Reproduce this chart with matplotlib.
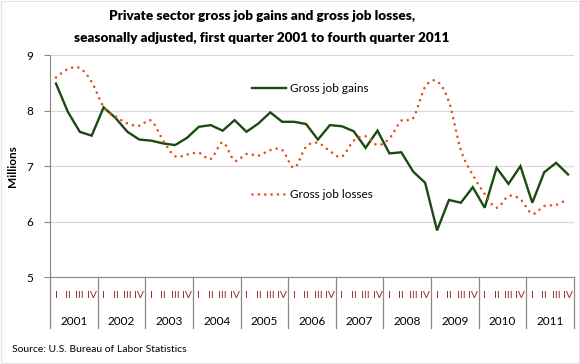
import matplotlib
matplotlib.use("Agg")
import matplotlib.pyplot as plt
import numpy as np
from matplotlib.transforms import blended_transform_factory

plt.rcParams['font.family'] = ['Lato', 'DejaVu Sans']

years = ['2001', '2002', '2003', '2004', '2005', '2006',
         '2007', '2008', '2009', '2010', '2011']
quarters = ['I', 'II', 'III', 'IV']

# millions, 2001 Q1 .. 2011 Q4
gains = [8.49, 7.98, 7.62, 7.55, 8.06, 7.87, 7.62, 7.48, 7.46, 7.41, 7.38, 7.51,
         7.71, 7.74, 7.64, 7.83, 7.62, 7.77, 7.97, 7.80, 7.80, 7.76, 7.48, 7.74,
         7.72, 7.63, 7.33, 7.64, 7.23, 7.25, 6.90, 6.70, 5.84, 6.39, 6.34, 6.62,
         6.25, 6.97, 6.68, 7.00, 6.34, 6.89, 7.06, 6.85]
losses = [8.60, 8.75, 8.77, 8.52, 8.07, 7.90, 7.77, 7.73, 7.82, 7.46, 7.18, 7.21,
          7.24, 7.13, 7.43, 7.10, 7.22, 7.19, 7.29, 7.29, 6.97, 7.35, 7.42, 7.27,
          7.17, 7.46, 7.54, 7.38, 7.50, 7.82, 7.87, 8.43, 8.53, 8.16, 7.29, 6.84,
          6.50, 6.25, 6.46, 6.40, 6.14, 6.28, 6.30, 6.41]


def smooth(x, y, n=20):
    # bezier smoothing like the spreadsheet "smoothed line" option
    x = np.asarray(x, float)
    y = np.asarray(y, float)
    px = np.concatenate([[x[0]], x, [x[-1]]])
    py = np.concatenate([[y[0]], y, [y[-1]]])
    t = np.linspace(0, 1, n)[:, None]
    xs, ys = [], []
    for i in range(1, len(px) - 2):
        c1x = px[i] + (px[i + 1] - px[i - 1]) / 6
        c1y = py[i] + (py[i + 1] - py[i - 1]) / 6
        c2x = px[i + 1] - (px[i + 2] - px[i]) / 6
        c2y = py[i + 1] - (py[i + 2] - py[i]) / 6
        b = [(1 - t) ** 3, 3 * (1 - t) ** 2 * t, 3 * (1 - t) * t ** 2, t ** 3]
        xs.append((b[0] * px[i] + b[1] * c1x + b[2] * c2x + b[3] * px[i + 1]).ravel())
        ys.append((b[0] * py[i] + b[1] * c1y + b[2] * c2y + b[3] * py[i + 1]).ravel())
    return np.concatenate(xs), np.concatenate(ys)


green = '#1b4a12'
orange = '#e2501c'
red_lbl = '#9a2a2a'
dots = (0, (0.01, 2.4))

fig = plt.figure(figsize=(5.8, 3.64), dpi=100)
ax = fig.add_axes([50 / 580, 87 / 364, 524 / 580, 221.7 / 364])

xq = np.arange(len(gains))
ax.plot(xq, gains, color=green, lw=1.7, solid_joinstyle='miter', zorder=3)
sx, sy = smooth(xq, losses)
ax.plot(sx, sy, color=orange, lw=1.9, linestyle=dots,
        dash_capstyle='round', zorder=3)

ax.set_xlim(-0.5, len(gains) - 0.5)
ax.set_ylim(5, 9)
ax.set_yticks([5, 6, 7, 8, 9])
ax.yaxis.grid(True, color='#d9d9d9', lw=0.9)
ax.set_axisbelow(True)
ax.tick_params(axis='y', length=4, color='#888888', labelsize=8.5, pad=8)
ax.tick_params(axis='x', length=0, labelbottom=False)
for s in ['top', 'right']:
    ax.spines[s].set_visible(False)
for s in ['left', 'bottom']:
    ax.spines[s].set_color('#888888')
ax.set_ylabel('Millions', fontsize=8.5, fontweight='bold', labelpad=6)

# two-level category axis
tr = blended_transform_factory(ax.transData, ax.transAxes)
for k, yr in enumerate(years):
    for j, q in enumerate(quarters):
        ax.text(4 * k + j, -0.085, q, transform=tr, ha='center', va='center',
                fontsize=7.5, color=red_lbl)
    ax.text(4 * k + 1.5, -0.2, yr, transform=tr, ha='center', va='center',
            fontsize=8.5)
for k in range(len(years) + 1):
    ax.plot([4 * k - 0.5] * 2, [0, -0.23], transform=tr, color='#888888',
            lw=0.9, clip_on=False)

# inline legend
ax.plot([0.3855, 0.45], [0.8525, 0.8525], transform=ax.transAxes, color=green, lw=1.7)
ax.text(0.458, 0.8525, 'Gross job gains', transform=ax.transAxes, va='center', fontsize=8.5)
ax.plot([0.3855, 0.45], [0.373, 0.373], transform=ax.transAxes, color=orange, lw=1.9,
        linestyle=dots, dash_capstyle='round')
ax.text(0.458, 0.373, 'Gross job losses', transform=ax.transAxes, va='center', fontsize=8.5)

fig.text(262 / 580, 1 - 16 / 364, 'Private sector gross job gains and gross job losses,',
         ha='center', va='center', fontsize=9.7, fontweight='heavy')
fig.text(262 / 580, 1 - 38 / 364, 'seasonally adjusted, first quarter 2001 to fourth quarter 2011',
         ha='center', va='center', fontsize=9.7, fontweight='heavy')
fig.text(12 / 580, 1 - 350 / 364, 'Source: U.S. Bureau of Labor Statistics',
         ha='left', va='center', fontsize=7.5)

fig.patches.append(plt.Rectangle((0.002, 0.003), 0.996, 0.994, transform=fig.transFigure,
                                 fill=False, edgecolor='#e4e4e4', lw=0.8))

fig.savefig('out.png', dpi=100)
